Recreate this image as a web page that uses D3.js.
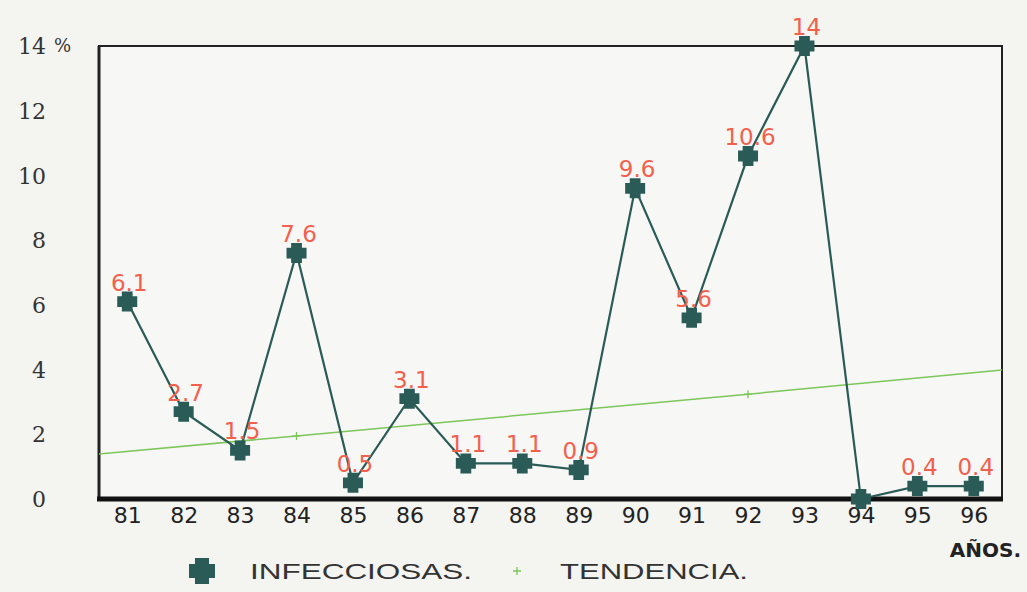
<!DOCTYPE html>
<html><head><meta charset="utf-8">
<script src="https://cdn.jsdelivr.net/npm/d3@7"></script>
<style>
html,body{margin:0;padding:0;background:#f4f4f1;}
svg{display:block;}
</style></head>
<body>
<svg id="c" width="1027" height="592"></svg>
<script>
const years = [81,82,83,84,85,86,87,88,89,90,91,92,93,94,95,96];
const infecciosas = [6.1,2.7,1.5,7.6,0.5,3.1,1.1,1.1,0.9,9.6,5.6,10.6,14,0,0.4,0.4];
const trendYears = [80.5, 84, 92, 96.5];
const trendValues = [1.39, 1.95, 3.24, 3.99];
const trendMarkerYears = [84, 92];
const yTicks = [0,2,4,6,8,10,12,14];

const svg = d3.select("#c");
const L = 99, R = 1002, T = 46, B = 499;
const x = d3.scaleLinear().domain([80.5, 96.5]).range([L, R]);
const y = d3.scaleLinear().domain([0, 14]).range([B, T]);

const lineCol = "#2b5b57", redCol = "#f2604c", greenCol = "#7cc65a";

// chunky plus symbol: size = full width in px
const fatPlus = {
  draw(ctx, size) {
    const w = size / 2, a = size * 0.27;
    ctx.moveTo(-a, -w); ctx.lineTo(a, -w); ctx.lineTo(a, -a); ctx.lineTo(w, -a);
    ctx.lineTo(w, a); ctx.lineTo(a, a); ctx.lineTo(a, w); ctx.lineTo(-a, w);
    ctx.lineTo(-a, a); ctx.lineTo(-w, a); ctx.lineTo(-w, -a); ctx.lineTo(-a, -a);
    ctx.closePath();
  }
};

// frame
svg.append("rect").attr("x",L).attr("y",T).attr("width",R-L).attr("height",B-T)
  .attr("fill","#f7f7f5").attr("stroke","#222").attr("stroke-width",2);
svg.append("line").attr("x1",L).attr("x2",L).attr("y1",T).attr("y2",B)
  .attr("stroke","#222").attr("stroke-width",3);
svg.append("line").attr("x1",L-2).attr("x2",R+1).attr("y1",B).attr("y2",B)
  .attr("stroke","#111").attr("stroke-width",5);

// y axis labels
const yAxis = d3.axisLeft(y).tickValues(yTicks).tickSize(0).tickPadding(0)
  .tickFormat(d => d);
const gy = svg.append("g").attr("transform",`translate(46,0)`).call(yAxis);
gy.select(".domain").remove();
gy.selectAll("text").attr("font-family","'DejaVu Serif', serif").attr("font-size",22)
  .attr("fill","#333").attr("dy","0.35em");
svg.append("text").attr("x",54).attr("y",y(14)).attr("dy","0.35em")
  .attr("font-family","'DejaVu Serif', serif").attr("font-size",18).attr("fill","#333").text("%");

// x axis labels
const xAxis = d3.axisBottom(x).tickValues(years).tickSize(0).tickPadding(0).tickFormat(d => d);
const gx = svg.append("g").attr("transform",`translate(0,${B+7})`).call(xAxis);
gx.select(".domain").remove();
gx.selectAll("text").attr("font-family","'DejaVu Sans', sans-serif").attr("font-size",22)
  .attr("fill","#222").attr("dy","0.75em");

svg.append("text").attr("x",1021).attr("y",557).attr("text-anchor","end")
  .attr("font-family","'DejaVu Sans', sans-serif").attr("font-weight","bold")
  .attr("font-size",20).attr("fill","#222").text("AÑOS.");

// trend line
svg.append("path").datum(trendYears.map((t,i)=>[t,trendValues[i]]))
  .attr("d", d3.line().x(d=>x(d[0])).y(d=>y(d[1])))
  .attr("fill","none").attr("stroke",greenCol).attr("stroke-width",1.5);
const trendInterp = d3.scaleLinear().domain(trendYears).range(trendValues);
svg.selectAll(".tm").data(trendMarkerYears).enter().append("path")
  .attr("transform", d=>`translate(${x(d)},${y(trendInterp(d))})`)
  .attr("d", "M-4,0H4M0,-4V4")
  .attr("fill","none").attr("stroke",greenCol).attr("stroke-width",1.3);

// data line
svg.append("path").datum(years.map((yr,i)=>[yr,infecciosas[i]]))
  .attr("d", d3.line().x(d=>x(d[0])).y(d=>y(d[1])))
  .attr("fill","none").attr("stroke",lineCol).attr("stroke-width",2.2);
svg.selectAll(".m").data(years).enter().append("path")
  .attr("transform",(d,i)=>`translate(${x(d)},${y(infecciosas[i])})`)
  .attr("d", d3.symbol(fatPlus, 20)())
  .attr("fill",lineCol);

// labels (zero value has no label in the original)
svg.selectAll(".lb").data(years.filter((d,i)=>infecciosas[i] !== 0)).enter().append("text")
  .attr("x",d=>x(d)+2).attr("y",d=>y(infecciosas[years.indexOf(d)])-11)
  .attr("text-anchor","middle").attr("font-family","'DejaVu Sans', sans-serif")
  .attr("font-size",23).attr("fill",redCol)
  .text(d=>String(infecciosas[years.indexOf(d)]));

// legend
svg.append("path").attr("transform","translate(202,571)")
  .attr("d", d3.symbol(fatPlus, 26)()).attr("fill",lineCol);
svg.append("text").attr("x",250).attr("y",579).attr("font-family","'Liberation Sans', Arial, sans-serif")
  .attr("font-size",22).attr("fill","#333")
  .attr("textLength",222).attr("lengthAdjust","spacingAndGlyphs").text("INFECCIOSAS.");
svg.append("path").attr("transform","translate(517,571)")
  .attr("d", "M-4,0H4M0,-4V4").attr("fill","none").attr("stroke",greenCol).attr("stroke-width",1.3);
svg.append("text").attr("x",560).attr("y",579).attr("font-family","'Liberation Sans', Arial, sans-serif")
  .attr("font-size",22).attr("fill","#333")
  .attr("textLength",188).attr("lengthAdjust","spacingAndGlyphs").text("TENDENCIA.");
</script>
</body></html>
